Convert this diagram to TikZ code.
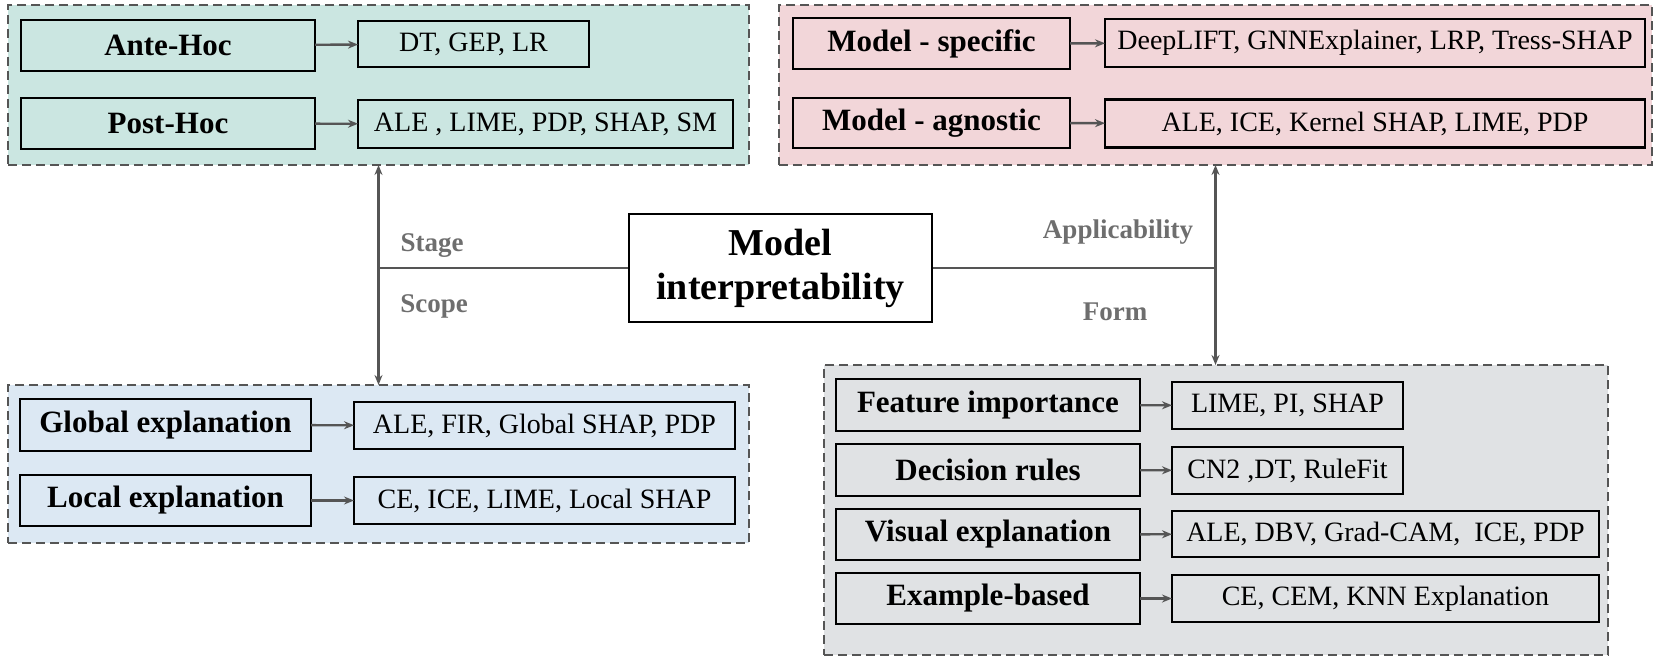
\documentclass[tikz,border=0pt]{standalone}
\usepackage{fontspec}
\setmainfont{Liberation Serif}
\usetikzlibrary{arrows.meta}
\definecolor{cteal}{RGB}{203,230,225}
\definecolor{cpink}{RGB}{242,214,217}
\definecolor{cblue}{RGB}{220,232,243}
\definecolor{cgray}{RGB}{224,226,228}
\definecolor{lgray}{RGB}{85,85,85}
\definecolor{tgray}{RGB}{110,110,110}
\begin{document}
\begin{tikzpicture}[x=1pt,y=-1pt,
  cont/.style={draw=lgray, line width=2.4pt, dash pattern=on 9pt off 5pt, inner sep=0pt, outer sep=0pt},
  lbox/.style={draw=black, line width=2.6pt, inner sep=0pt, outer sep=0pt, font=\fontsize{31}{34}\selectfont\bfseries},
  rbox/.style={draw=black, line width=2.6pt, inner sep=0pt, outer sep=0pt, font=\fontsize{28}{31}\selectfont},
  conn/.style={draw=lgray, line width=2.4pt, -{Stealth[length=10pt,width=8pt]}},
  dconn/.style={draw=lgray, line width=2.4pt, {Stealth[length=10pt,width=8pt]}-{Stealth[length=10pt,width=8pt]}},
  plain/.style={draw=lgray, line width=2.4pt},
  lab/.style={text=tgray, font=\fontsize{27}{30}\selectfont\bfseries, inner sep=0pt}
]
\useasboundingbox (0,0) rectangle (1659,660);

% containers
\node[cont, fill=cteal, minimum width=741pt, minimum height=160pt] (teal) at (378.5,85) {};
\node[cont, fill=cpink, minimum width=873pt, minimum height=160pt] (pink) at (1215.5,85) {};
\node[cont, fill=cblue, minimum width=741pt, minimum height=158pt] (blue) at (378.5,464) {};
\node[cont, fill=cgray, minimum width=784pt, minimum height=290pt] (gray) at (1216,510) {};

% stage
\node[lbox, minimum width=294pt, minimum height=51pt] (ante) at (168,45.5) {Ante-Hoc};
\node[rbox, minimum width=231pt, minimum height=46pt] (anter) at (473.5,44) {DT, GEP, LR};
\node[lbox, minimum width=294pt, minimum height=51pt] (post) at (168,123.5) {Post-Hoc};
\node[rbox, minimum width=375pt, minimum height=48pt] (postr) at (545.5,124) {ALE , LIME, PDP, SHAP, SM};

% applicability
\node[lbox, minimum width=277pt, minimum height=51pt] (spec) at (931.5,43.5) {Model - specific};
\node[rbox, minimum width=540pt, minimum height=48pt] (specr) at (1375,43) {DeepLIFT, GNNExplainer, LRP, Tress-SHAP};
\node[lbox, minimum width=277pt, minimum height=50pt] (agn) at (931.5,123) {Model - agnostic};
\node[rbox, minimum width=540pt, minimum height=48pt] (agnr) at (1375,123.5) {ALE, ICE, Kernel SHAP, LIME, PDP};

% scope
\node[lbox, minimum width=291pt, minimum height=52pt] (glob) at (165.5,425) {Global explanation};
\node[rbox, minimum width=381pt, minimum height=47pt] (globr) at (544.5,425.5) {ALE, FIR, Global SHAP, PDP};
\node[lbox, minimum width=291pt, minimum height=51pt] (loc) at (165.5,500.5) {Local explanation};
\node[rbox, minimum width=381pt, minimum height=47pt] (locr) at (544.5,500.5) {CE, ICE, LIME, Local SHAP};

% form
\node[lbox, minimum width=304pt, minimum height=52pt] (feat) at (988,405) {Feature importance};
\node[rbox, minimum width=231pt, minimum height=47pt] (featr) at (1287.5,405.5) {LIME, PI, SHAP};
\node[lbox, minimum width=304pt, minimum height=52pt] (dec) at (988,470) {Decision rules};
\node[rbox, minimum width=231pt, minimum height=47pt] (decr) at (1287.5,470.5) {CN2 ,DT, RuleFit};
\node[lbox, minimum width=304pt, minimum height=51pt] (vis) at (988,534.5) {Visual explanation};
\node[rbox, minimum width=427pt, minimum height=46pt] (visr) at (1385.5,534) {ALE, DBV, Grad-CAM,\ \ ICE, PDP};
\node[lbox, minimum width=304pt, minimum height=51pt] (ex) at (988,598.5) {Example-based};
\node[rbox, minimum width=427pt, minimum height=47pt] (exr) at (1385.5,598.5) {CE, CEM, KNN Explanation};

% center
\node[draw=black, line width=2.6pt, minimum width=303pt, minimum height=108pt, inner sep=0pt, align=center,
      font=\fontsize{38}{44}\selectfont\bfseries] (model) at (780.5,268) {Model\\interpretability};

% labels
\node[lab] (stage) at (432,246) {Stage};
\node[lab] (scope) at (434,306) {Scope};
\node[lab] (appl) at (1118,232) {Applicability};
\node[lab] (form) at (1115,312) {Form};

% connectors inside containers
\draw[conn] (ante) -- (anter);
\draw[conn] (post) -- (postr);
\draw[conn] (spec) -- (specr);
\draw[conn] (agn) -- (agnr);
\draw[conn] (glob) -- (globr);
\draw[conn] (loc) -- (locr);
\draw[conn] (feat) -- (featr);
\draw[conn] (dec) -- (decr);
\draw[conn] (vis) -- (visr);
\draw[conn] (ex) -- (exr);

% main connectors
\coordinate (jl) at (model.west -| teal.south);
\coordinate (jr) at (model.east -| pink.south);
\draw[plain] (model.west) -- (jl);
\draw[plain] (model.east) -- (jr);
\draw[dconn] (teal.south) -- (blue.north);
\draw[dconn] (pink.south) -- (pink.south |- gray.north);
\end{tikzpicture}
\end{document}
